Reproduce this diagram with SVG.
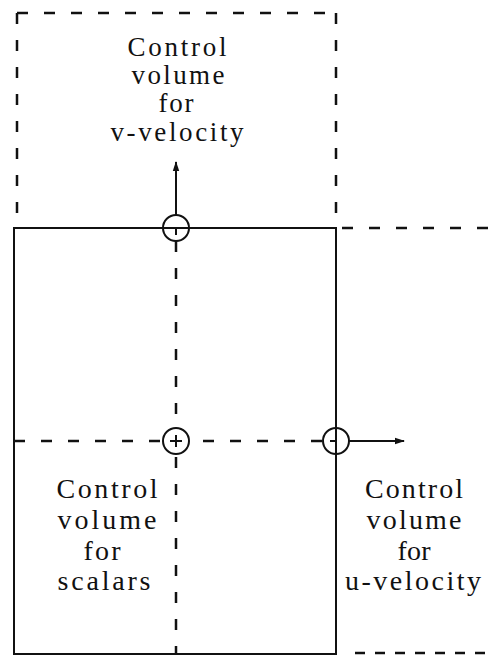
<svg xmlns="http://www.w3.org/2000/svg" width="491" height="656" viewBox="0 0 491 656">
<style>
  .solid { stroke: #111; stroke-width: 2; fill: none; }
  .dash { stroke: #111; stroke-width: 2.5; fill: none; stroke-dasharray: 11 16; }
  .dash-s { stroke: #111; stroke-width: 2.5; fill: none; stroke-dasharray: 10 10; }
  .pt { stroke: #111; stroke-width: 2; fill: #fff; }
  .tick { stroke: #111; stroke-width: 2; }
  .arrow { stroke: #111; stroke-width: 2; fill: none; marker-end: url(#ah); }
  text { font-family: "Liberation Serif", "Times New Roman", serif; font-size: 28px; fill: #111; text-anchor: middle; }
  .top text { font-size: 27px; }
</style>
<defs>
  <marker id="ah" markerWidth="10" markerHeight="8" refX="9" refY="4" orient="auto" markerUnits="userSpaceOnUse">
    <path d="M0,0.8 L10,4 L0,7.2 Z" fill="#111"/>
  </marker>
</defs>
<rect width="491" height="656" fill="#fff"/>

<g id="cv-v-velocity" class="top">
  <path class="dash" d="M17,13 L336,13"/>
  <path class="dash" d="M17,13 L17,228"/>
  <path class="dash" d="M336,13 L336,228"/>
  <text x="177" y="56" textLength="99" lengthAdjust="spacing">Control</text>
  <text x="178" y="84" textLength="93" lengthAdjust="spacing">volume</text>
  <text x="176" y="112" textLength="35" lengthAdjust="spacing">for</text>
  <text x="177" y="141" textLength="133" lengthAdjust="spacing">v-velocity</text>
</g>

<g id="cv-scalars">
  <path class="solid" d="M14,228 L336,228 L336,654 L14,654 Z"/>
  <text x="107" y="498" textLength="101" lengthAdjust="spacing">Control</text>
  <text x="107" y="529" textLength="99" lengthAdjust="spacing">volume</text>
  <text x="102" y="560" textLength="37" lengthAdjust="spacing">for</text>
  <text x="104" y="590" textLength="93" lengthAdjust="spacing">scalars</text>
</g>

<g id="cv-u-velocity">
  <path class="dash" d="M342,228 L491,228"/>
  <path class="dash-s" d="M355,653 L491,653"/>
  <text x="414" y="498" textLength="98" lengthAdjust="spacing">Control</text>
  <text x="414" y="529" textLength="95" lengthAdjust="spacing">volume</text>
  <text x="414" y="560" textLength="33" lengthAdjust="spacing">for</text>
  <text x="413" y="590" textLength="136" lengthAdjust="spacing">u-velocity</text>
</g>

<g id="grid-lines">
  <path class="dash" d="M176,241 L176,654"/>
  <path class="dash" d="M14,441 L323,441"/>
</g>

<g id="point-v">
  <circle class="pt" cx="176" cy="228" r="13"/>
  <path class="tick" d="M163,228 L189,228 M176,228 L176,235"/>
</g>

<g id="point-scalar">
  <circle class="pt" cx="176" cy="441" r="13"/>
  <path class="tick" d="M170,441 L182,441 M176,435 L176,447"/>
</g>

<g id="point-u">
  <circle class="pt" cx="336" cy="441" r="13"/>
  <path class="tick" d="M336,428 L336,454 M330,441 L336,441"/>
</g>

<g id="connectors">
  <path class="arrow" d="M176,215 L176,162"/>
  <path class="arrow" d="M349,441 L404,441"/>
</g>
</svg>
